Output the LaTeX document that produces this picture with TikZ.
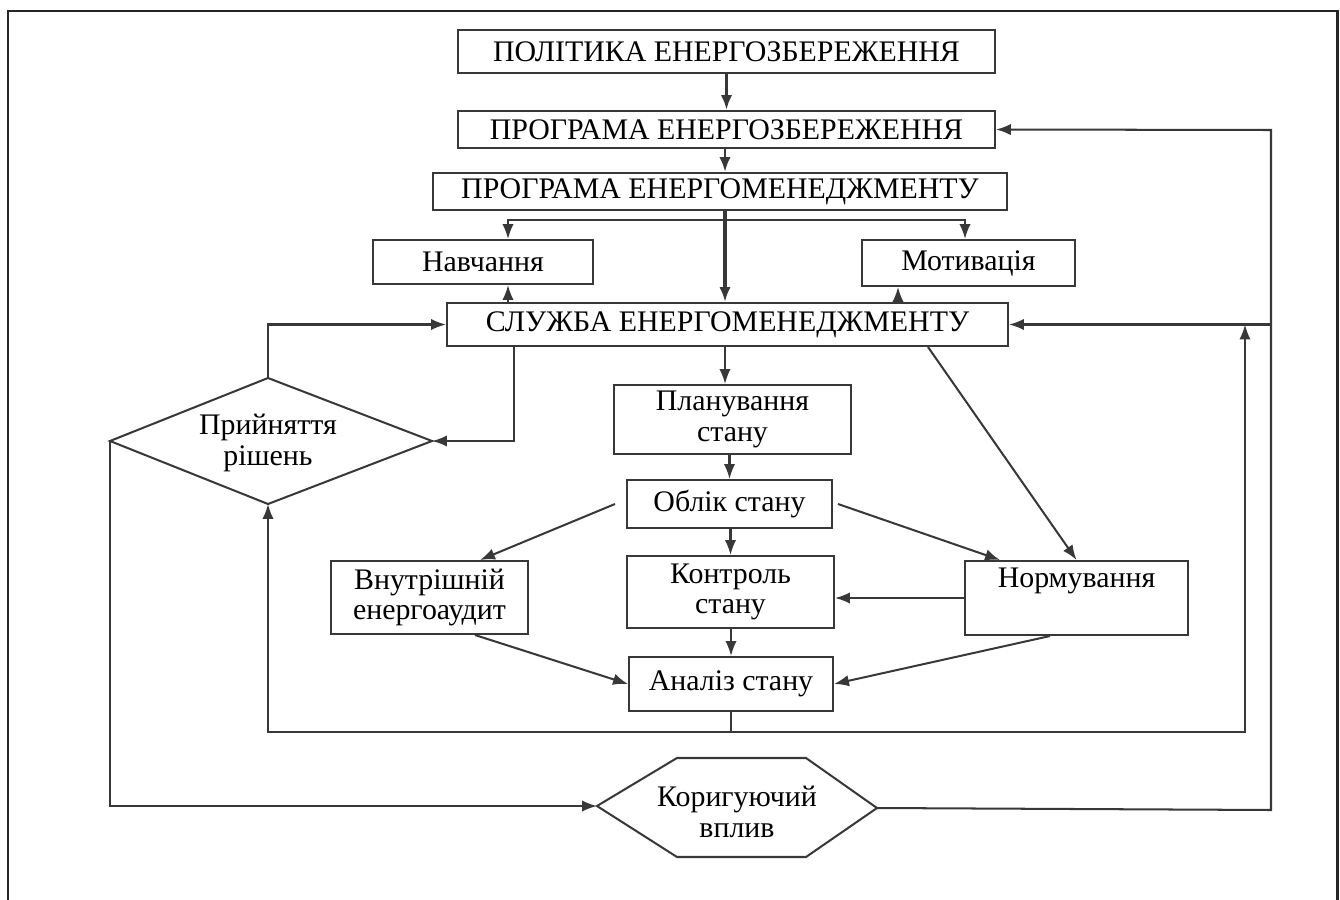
\documentclass[tikz,border=0pt]{standalone}
\usepackage{fontspec}
\setmainfont{Liberation Serif}
\usetikzlibrary{arrows.meta,calc}
\newcommand\fsz{\fontsize{17}{17.5}\selectfont}
\begin{document}
\begin{tikzpicture}[x=0.02cm,y=-0.02cm,
  ln/.style={draw=black!78,line width=1.15pt},
  box/.style={ln,rectangle,inner sep=0pt,align=center,font=\fsz,text=black},
  sz/.style 2 args={minimum width=#1*0.02cm,minimum height=#2*0.02cm},
  lbl/.style={inner sep=0pt,align=center,font=\fsz,text=black},
  arr/.style={ln,-{Latex[length=8.5pt,width=6.5pt]}},
  thk/.style={arr,line width=2pt},
  frame/.style={draw=black!85,line width=1.7pt}]
\useasboundingbox (0,0) rectangle (1340,900);
% frame
\coordinate (fa) at (8,900);
\coordinate (fb) at (8,11);
\coordinate (fc) at (1337,11);
\coordinate (fd) at (1337,900);
\draw[frame] (fa) -- (fb) -- (fc) -- (fd);
% boxes
\node[box,sz={537}{43}] (pol) at (726.5,51.5) {ПОЛІТИКА ЕНЕРГОЗБЕРЕЖЕННЯ};
\node[box,sz={537}{37}] (prog) at (726.5,129.5) {ПРОГРАМА ЕНЕРГОЗБЕРЕЖЕННЯ};
\node[box,sz={574}{37}] (pm) at (720,191.5) {ПРОГРАМА ЕНЕРГОМЕНЕДЖМЕНТУ};
\node[box,sz={220}{44}] (nav) at (483,262) {Навчання};
\node[box,sz={213}{46}] (mot) at (968.5,263) {Мотивація};
\node[box,sz={561}{43}] (sl) at (727.5,324.5) {СЛУЖБА ЕНЕРГОМЕНЕДЖМЕНТУ};
\node[box,sz={237}{69}] (plan) at (732.5,419.5) {Планування\\стану};
\node[box,sz={205}{48}] (obl) at (729.5,504) {Облік стану};
\node[box,sz={207}{72}] (ctl) at (730.5,592) {Контроль\\стану};
\node[box,sz={204}{54}] (an) at (731,684) {Аналіз стану};
\node[box,sz={197}{73}] (vn) at (429.5,597.5) {Внутрішній\\енергоаудит};
\node[box,sz={223}{74}] (norm) at (1076.5,598) {Нормування\\\strut};
% diamond
\coordinate (dT) at (268,378);
\coordinate (dL) at (110,441);
\coordinate (dR) at (432,441);
\coordinate (dB) at (268,504);
\draw[ln] (dT) -- (dR) -- (dB) -- (dL) -- cycle;
\node[lbl] (dec) at (268,443) {Прийняття\\рішень};
% hexagon
\coordinate (hL) at (597,806);
\coordinate (hTL) at (677,758);
\coordinate (hTR) at (806,758);
\coordinate (hR) at (877,808);
\coordinate (hBR) at (806,857);
\coordinate (hBL) at (677,857);
\draw[ln] (hL) -- (hTL) -- (hTR) -- (hR) -- (hBR) -- (hBL) -- cycle;
\node[lbl] (kor) at (737,812) {Коригуючий\\вплив};
% helper coordinates
\coordinate (xnav) at (508,0);
\coordinate (xmotd) at (965,0);
\coordinate (xmotu) at (898,0);
\coordinate (ybr) at (0,220);
\coordinate (rtop) at (1271,130);
\coordinate (rbot) at (1271,810);
\coordinate (xloop) at (1245,0);
\coordinate (yloop) at (0,732);
\coordinate (xsd) at (514,0);
\coordinate (xpl) at (725,0);
\coordinate (xvn) at (480,0);
\coordinate (xno) at (1000,0);
\coordinate (xsn) at (928,0);
\coordinate (xvb) at (475,0);
\coordinate (xnb) at (1050,0);
\coordinate (xobl) at (615,0);
\coordinate (xobr) at (838,0);
% top chain
\draw[thk,line width=1.8pt] (pol.south -| prog.north) -- (prog.north);
\draw[arr,line width=1.5pt] (prog.south -| xpl) -- (pm.north -| xpl);
\draw[thk] (pm.south -| xpl) -- (sl.north -| xpl);
\draw[arr] (ybr -| xpl) -- (ybr -| xnav) -- (nav.north -| xnav);
\draw[arr] (ybr -| xpl) -- (ybr -| xmotd) -- (mot.north -| xmotd);
\draw[arr] (sl.north -| xnav) -- (nav.south -| xnav);
\draw[arr] (sl.north -| xmotu) -- (mot.south -| xmotu);
% right feedback
\draw[arr] (hR) -- (rbot) -- (rtop) -- (prog.east);
\draw[arr] (rtop |- sl.east) -- (sl.east);
% centre chain
\draw[arr] (sl.south -| xpl) -- (plan.north -| xpl);
\draw[arr] (plan.south -| obl.north) -- (obl.north);
\draw[arr] (obl.south -| ctl.north) -- (ctl.north);
\draw[arr] (ctl.south -| an.north) -- (an.north);
\draw[arr] (obl.west -| xobl) -- (vn.north -| xvn);
\draw[arr] (obl.east -| xobr) -- (norm.north -| xno);
\draw[arr] (sl.south -| xsn) -- (norm.north);
\draw[arr] (norm.west) -- (norm.west -| ctl.east);
\draw[arr] (vn.south -| xvb) -- (an.west);
\draw[arr] (norm.south -| xnb) -- (an.east);
% loop
\draw[arr] (an.south) -- (an.south |- yloop) -| (dB);
\draw[arr] (an.south |- yloop) -| (xloop |- sl.east);
% decision
\draw[arr] (dT) |- (sl.west);
\draw[arr] (sl.south -| xsd) |- (dR);
\draw[arr] (dL) |- (hL);
\end{tikzpicture}
\end{document}
